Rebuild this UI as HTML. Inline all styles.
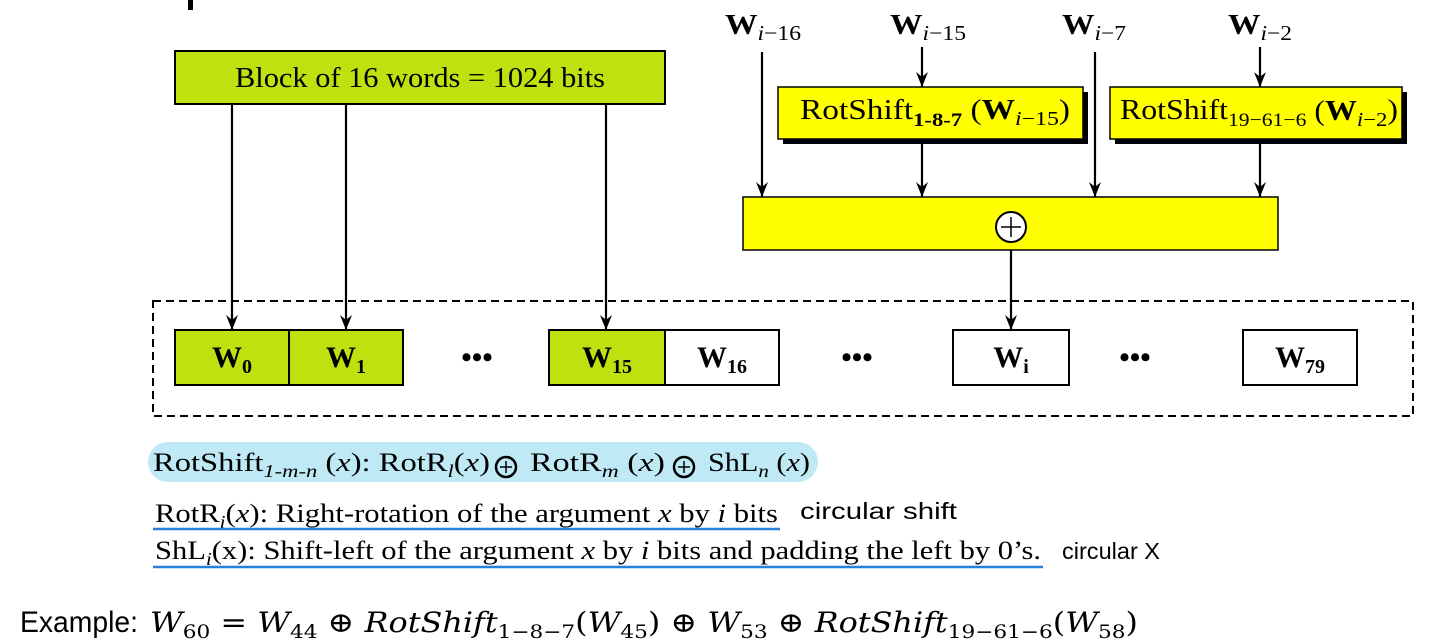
<!DOCTYPE html>
<html><head><meta charset="utf-8"><style>
body{margin:0;background:#fff;width:1440px;height:643px;overflow:hidden;position:relative;font-family:"Liberation Serif",serif}
.a{position:absolute}
</style></head><body>
<svg class="a" style="left:0;top:0" width="1440" height="643" xmlns="http://www.w3.org/2000/svg">
<defs><marker id="ar" markerWidth="16" markerHeight="12" refX="15" refY="6" orient="auto" markerUnits="userSpaceOnUse"><path d="M0,0 L15,6 L0,12 L5,6 Z" fill="#000"/></marker></defs>
<rect x="188" y="0" width="5" height="10" fill="#000"/>
<rect x="175" y="51" width="490" height="53" fill="#c0e010" stroke="#000" stroke-width="2"/>
<text x="235" y="87" font-size="29" textLength="370" lengthAdjust="spacingAndGlyphs" font-family="Liberation Serif">Block of 16 words = 1024 bits</text>
<g stroke="#000" stroke-width="2.2" marker-end="url(#ar)">
<line x1="232" y1="104" x2="232" y2="330"/>
<line x1="346" y1="104" x2="346" y2="330"/>
<line x1="606" y1="104" x2="606" y2="330"/>
<line x1="762" y1="52" x2="762" y2="197"/>
<line x1="922" y1="47" x2="922" y2="87"/>
<line x1="922" y1="139" x2="922" y2="197"/>
<line x1="1095" y1="52" x2="1095" y2="197"/>
<line x1="1260" y1="47" x2="1260" y2="87"/>
<line x1="1260" y1="139" x2="1260" y2="197"/>
<line x1="1011" y1="250" x2="1011" y2="330"/>
</g>
<rect x="783" y="92" width="305" height="52" fill="#000"/>
<rect x="778" y="87" width="305" height="52" fill="#ffff00" stroke="#000" stroke-width="1.5"/>
<rect x="1115" y="92" width="292" height="52" fill="#000"/>
<rect x="1110" y="87" width="292" height="52" fill="#ffff00" stroke="#000" stroke-width="1.5"/>
<rect x="743" y="197" width="535" height="53" fill="#ffff00" stroke="#000" stroke-width="1.5"/>
<circle cx="1011" cy="227" r="15" fill="#fff" stroke="#000" stroke-width="2"/>
<line x1="1001" y1="227" x2="1021" y2="227" stroke="#000" stroke-width="1.5"/>
<line x1="1011" y1="217" x2="1011" y2="237" stroke="#000" stroke-width="1.5"/>
<rect x="153" y="301" width="1260" height="115" fill="none" stroke="#000" stroke-width="2" stroke-dasharray="8,5"/>
<g stroke="#000" stroke-width="2">
<rect x="175" y="330" width="114" height="55" fill="#c0e010"/>
<rect x="289" y="330" width="114" height="55" fill="#c0e010"/>
<rect x="549" y="330" width="116" height="55" fill="#c0e010"/>
<rect x="665" y="330" width="114" height="55" fill="#fff"/>
<rect x="953" y="330" width="116" height="55" fill="#fff"/>
<rect x="1243" y="330" width="114" height="55" fill="#fff"/>
</g>
<g font-size="30" font-weight="bold" text-anchor="middle" font-family="Liberation Serif">
<text x="232" y="367">W<tspan font-size="20" dy="6">0</tspan></text>
<text x="346" y="367">W<tspan font-size="20" dy="6">1</tspan></text>
<text x="607" y="367">W<tspan font-size="20" dy="6">15</tspan></text>
<text x="722" y="367">W<tspan font-size="20" dy="6">16</tspan></text>
<text x="1011" y="367">W<tspan font-size="20" dy="6">i</tspan></text>
<text x="1300" y="367">W<tspan font-size="20" dy="6">79</tspan></text>
<text x="477" y="367">•••</text><text x="857" y="367">•••</text><text x="1135" y="367">•••</text>
</g>
<g font-size="29" font-family="Liberation Serif">
<text x="725" y="34" font-weight="bold" textLength="76" lengthAdjust="spacingAndGlyphs">W<tspan font-size="21" font-weight="normal" dy="6"><tspan font-style="italic">i</tspan>−16</tspan></text>
<text x="890" y="34" font-weight="bold" textLength="76" lengthAdjust="spacingAndGlyphs">W<tspan font-size="21" font-weight="normal" dy="6"><tspan font-style="italic">i</tspan>−15</tspan></text>
<text x="1062" y="34" font-weight="bold" textLength="64" lengthAdjust="spacingAndGlyphs">W<tspan font-size="21" font-weight="normal" dy="6"><tspan font-style="italic">i</tspan>−7</tspan></text>
<text x="1228" y="34" font-weight="bold" textLength="64" lengthAdjust="spacingAndGlyphs">W<tspan font-size="21" font-weight="normal" dy="6"><tspan font-style="italic">i</tspan>−2</tspan></text>
<text x="800" y="119" font-size="28" textLength="270" lengthAdjust="spacingAndGlyphs">RotShift<tspan font-size="19" font-weight="bold" dy="7">1-8-7</tspan><tspan dy="-7"> (</tspan><tspan font-weight="bold">W</tspan><tspan font-size="20" dy="6"><tspan font-style="italic">i</tspan>−15</tspan><tspan dy="-6">)</tspan></text>
<text x="1120" y="119" font-size="28" textLength="278" lengthAdjust="spacingAndGlyphs">RotShift<tspan font-size="19" dy="7">19−61−6</tspan><tspan dy="-6"> (</tspan><tspan font-weight="bold">W</tspan><tspan font-size="20" dy="6"><tspan font-style="italic">i</tspan>−2</tspan><tspan dy="-7">)</tspan></text>
</g>
<rect x="148" y="442" width="670" height="40" rx="20" fill="#bfeaf5"/>
<g font-size="26" font-family="Liberation Serif">
<text x="153" y="471" textLength="337" lengthAdjust="spacingAndGlyphs">RotShift<tspan font-size="18" font-style="italic" dy="6">1-m-n</tspan><tspan dy="-6"> (</tspan><tspan font-style="italic">x</tspan>): RotR<tspan font-size="18" font-style="italic" dy="6">l</tspan><tspan dy="-6">(</tspan><tspan font-style="italic">x</tspan>)</text>
<text x="530" y="471" textLength="135" lengthAdjust="spacingAndGlyphs">RotR<tspan font-size="18" font-style="italic" dy="6">m</tspan><tspan dy="-6"> (</tspan><tspan font-style="italic">x</tspan>)</text>
<text x="708" y="471" textLength="102" lengthAdjust="spacingAndGlyphs">ShL<tspan font-size="18" font-style="italic" dy="6">n</tspan><tspan dy="-6"> (</tspan><tspan font-style="italic">x</tspan>)</text>
<text x="155" y="522" textLength="623" lengthAdjust="spacingAndGlyphs">RotR<tspan font-size="18" font-style="italic" dy="6">i</tspan><tspan dy="-6">(</tspan><tspan font-style="italic">x</tspan>): Right-rotation of the argument <tspan font-style="italic">x</tspan> by <tspan font-style="italic">i</tspan> bits</text>
<text x="155" y="559" textLength="886" lengthAdjust="spacingAndGlyphs">ShL<tspan font-size="18" font-style="italic" dy="6">i</tspan><tspan dy="-6">(x): Shift-left of the argument </tspan><tspan font-style="italic">x</tspan> by <tspan font-style="italic">i</tspan> bits and padding the left by 0’s.</text>
</g>
<g stroke="#000" stroke-width="2.5" fill="#bfeaf5">
<circle cx="506" cy="467" r="10"/><circle cx="684" cy="467" r="10"/></g>
<g stroke="#000" stroke-width="1.5"><line x1="500" y1="467" x2="512" y2="467"/><line x1="506" y1="461" x2="506" y2="473"/><line x1="678" y1="467" x2="690" y2="467"/><line x1="684" y1="461" x2="684" y2="473"/></g>
<line x1="153" y1="529" x2="780" y2="529" stroke="#2a7fd6" stroke-width="2.5"/>
<line x1="153" y1="567" x2="1043" y2="567" stroke="#2a7fd6" stroke-width="2.5"/>
<g font-family="Liberation Sans" font-size="23">
<text x="800" y="519" textLength="157" lengthAdjust="spacingAndGlyphs">circular shift</text>
<text x="1062" y="559" textLength="98" lengthAdjust="spacingAndGlyphs">circular X</text>
</g>
<text x="20" y="632" font-family="Liberation Sans" font-size="30" textLength="118" lengthAdjust="spacingAndGlyphs">Example:</text>
<text x="150" y="632" font-family="DejaVu Serif" font-size="28" font-style="italic" textLength="988" lengthAdjust="spacingAndGlyphs">W<tspan font-size="19" font-style="normal" dy="6">60</tspan><tspan dy="-6" font-style="normal"> = </tspan>W<tspan font-size="19" font-style="normal" dy="6">44</tspan><tspan dy="-6" font-style="normal"> ⊕ </tspan>RotShift<tspan font-size="19" font-style="normal" dy="6">1−8−7</tspan><tspan dy="-6" font-style="normal">(</tspan>W<tspan font-size="19" font-style="normal" dy="6">45</tspan><tspan dy="-6" font-style="normal">) ⊕ </tspan>W<tspan font-size="19" font-style="normal" dy="6">53</tspan><tspan dy="-6" font-style="normal"> ⊕ </tspan>RotShift<tspan font-size="19" font-style="normal" dy="6">19−61−6</tspan><tspan dy="-6" font-style="normal">(</tspan>W<tspan font-size="19" font-style="normal" dy="6">58</tspan><tspan dy="-6" font-style="normal">)</tspan></text>
</svg>
</body></html>
